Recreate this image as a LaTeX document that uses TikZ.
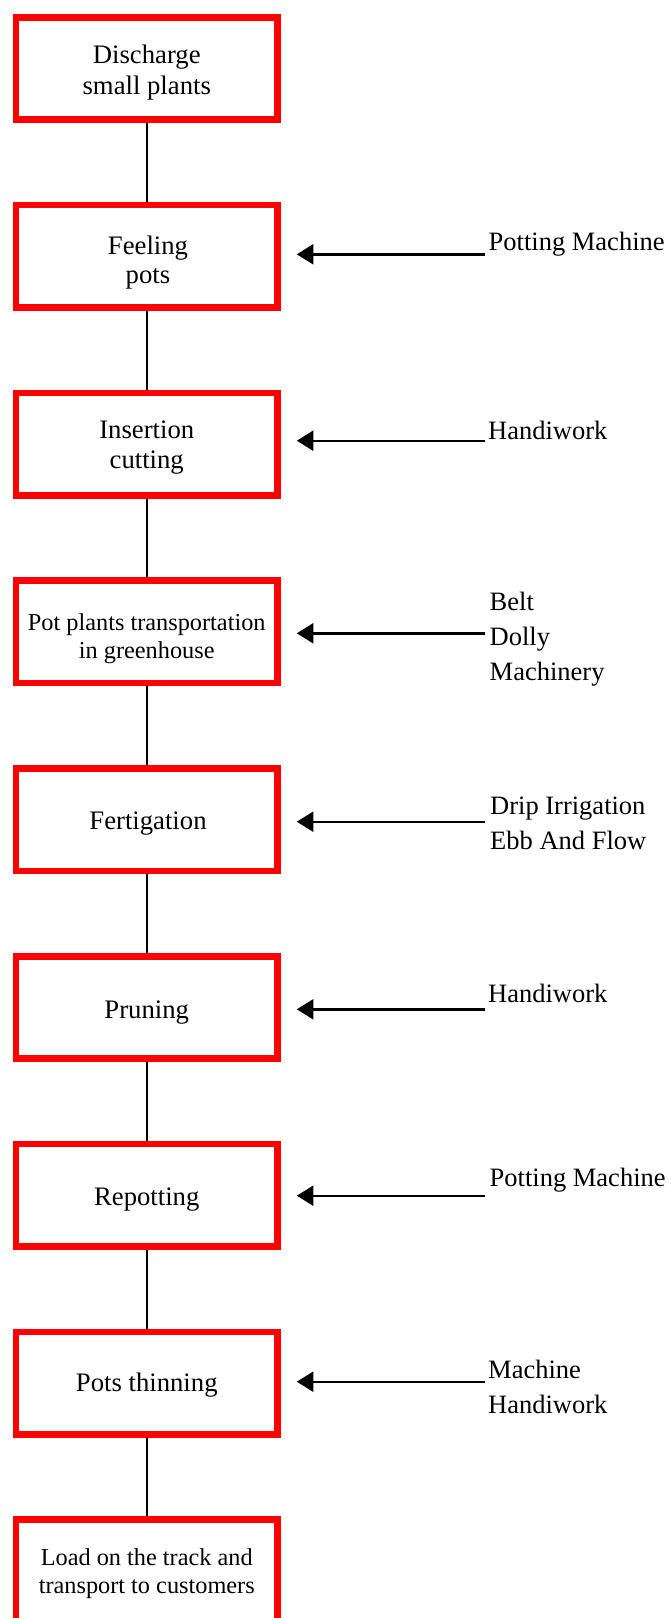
\documentclass[tikz,border=0pt]{standalone}
\usepackage{fontspec}
\setmainfont{Liberation Serif}
\usetikzlibrary{arrows.meta}
\begin{document}
\begin{tikzpicture}[x=1pt,y=-1pt,
  stage/.style={draw=red, line width=6.6pt, minimum width=261.5pt, minimum height=102.5pt, inner sep=0pt},
  btext/.style={inner sep=0pt, align=center, font=\fontsize{26.7}{30.5}\selectfont},
  stext/.style={inner sep=0pt, align=center, font=\fontsize{24.3}{28.3}\selectfont},
  rtext/.style={inner sep=0pt, align=left, font=\fontsize{26.5}{35}\selectfont},
  link/.style={line width=2pt},
  arr/.style={line width=2.4pt, -{Triangle[length=16.6pt,width=20pt]}}
]
\useasboundingbox (0,0) rectangle (671,1618);
\clip (0,0) rectangle (671,1618);

% process boxes
\node[stage] (b1) at (146.75,68.5) {};
\node[stage] (b2) at (146.75,256.3) {};
\node[stage] (b3) at (146.75,444.1) {};
\node[stage] (b4) at (146.75,631.9) {};
\node[stage] (b5) at (146.75,819.7) {};
\node[stage] (b6) at (146.75,1007.5) {};
\node[stage] (b7) at (146.75,1195.3) {};
\node[stage] (b8) at (146.75,1383.1) {};
\node[stage] (b9) at (146.75,1570.9) {};

% box texts
\node[btext, font=\fontsize{26.7}{30.7}\selectfont] (t1) at (146.75,72.5) {Discharge\\small plants};
\node[btext, font=\fontsize{26.7}{29.3}\selectfont] (t2) at (148,262.5) {Feeling\\pots};
\node[btext] (t3) at (146.75,447.5) {Insertion\\cutting};
\node[stext] (t4) at (146.75,638.5) {Pot plants transportation\\in greenhouse};
\node[btext] (t5) at (148,823.8) {Fertigation};
\node[btext] (t6) at (146.75,1012.8) {Pruning};
\node[btext] (t7) at (146.75,1199.5) {Repotting};
\node[btext] (t8) at (146.75,1385.5) {Pots thinning};
\node[stext] (t9) at (146.75,1573.5) {Load on the track and\\transport to customers};

% vertical connectors
\draw[link] (b1) -- (b2);
\draw[link] (b2) -- (b3);
\draw[link] (b3) -- (b4);
\draw[link] (b4) -- (b5);
\draw[link] (b5) -- (b6);
\draw[link] (b6) -- (b7);
\draw[link] (b7) -- (b8);
\draw[link] (b8) -- (b9);

% right labels
\node[rtext, anchor=base west] (r2) at (488.5,250.7) {Potting Machine};
\node[rtext, anchor=base west] (r3) at (488,439.3) {Handiwork};
\node[rtext, anchor=west] (r4) at (489.5,639.5) {Belt\\Dolly\\Machinery};
\node[rtext, anchor=west] (r5) at (490,823.1) {Drip Irrigation\\Ebb And Flow};
\node[rtext, anchor=base west] (r6) at (488,1002.7) {Handiwork};
\node[rtext, anchor=base west] (r7) at (489.5,1186.7) {Potting Machine};
\node[rtext, anchor=west] (r8) at (488,1386.75) {Machine\\Handiwork};

% arrow start points and tip points
\coordinate (s2) at (485,254.3);
\coordinate (s3) at (485,440.7);
\coordinate (s4) at (485,633.3);
\coordinate (s5) at (485,821.7);
\coordinate (s6) at (485,1009.3);
\coordinate (s7) at (485,1195.7);
\coordinate (s8) at (485,1381.7);
\foreach \i in {2,...,8}{
  \coordinate (e\i) at ([xshift=16pt]b\i.east);
  \draw[arr] (s\i) -- (e\i |- s\i);
}
\end{tikzpicture}
\end{document}
